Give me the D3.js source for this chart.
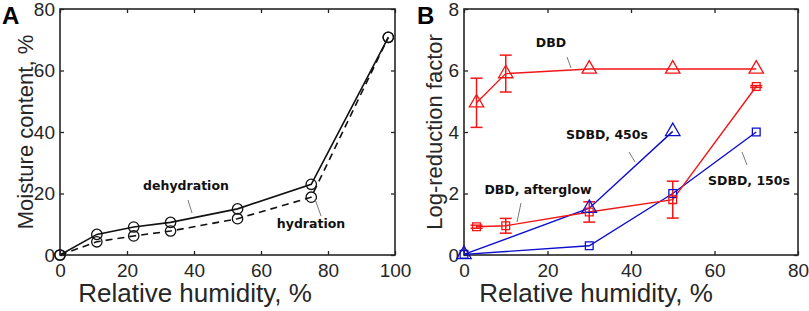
<!DOCTYPE html>
<html>
<head>
<meta charset="utf-8">
<script src="https://cdn.jsdelivr.net/npm/d3@7"></script>
<style>
  body { margin: 0; background: #fff; }
  svg { display: block; }
  .tick text { font-family: "Liberation Sans", Arial, sans-serif; font-size: 19px; fill: #262626; }
  .lbl { font-family: "Liberation Sans", Arial, sans-serif; font-size: 22px; fill: #262626; }
  .xlbl { font-size: 26px; }
  .note { font-family: "DejaVu Sans", Verdana, sans-serif; font-size: 12.5px; font-weight: bold; fill: #111; }
  .panel { font-family: "Liberation Sans", Arial, sans-serif; font-size: 24px; font-weight: bold; fill: #000; }
</style>
</head>
<body>
<div id="view"></div>
<script>
// ---------- Data: panel A ----------
const rhA = [0, 11, 22, 33, 53, 75, 98];
const dehydration = [0, 6.7, 9.1, 10.6, 15, 23, 70.8];
const hydration   = [0, 4.3, 6.2, 7.8, 11.8, 18.8, 70.8];
const ticksAx = [0, 20, 40, 60, 80, 100];
const ticksAy = [0, 20, 40, 60, 80];

// ---------- Data: panel B ----------
const rhDBD = [3, 10, 30, 50, 70];
const dbd       = [4.95, 5.9, 6.05, 6.05, 6.05];
const dbdErr    = [0.8, 0.6, 0, 0, 0];
const afterglow    = [0.92, 0.95, 1.4, 1.8, 5.48];
const afterglowErr = [0.05, 0.24, 0.33, 0.6, 0.03];
const rhS450 = [0, 30, 50];
const sdbd450 = [0.02, 1.52, 4.02];
const rhS150 = [0, 30, 50, 70];
const sdbd150 = [0.02, 0.3, 2.0, 4.0];
const ticksBx = [0, 20, 40, 60, 80];
const ticksBy = [0, 2, 4, 6, 8];

const RED = "#f21616", BLUE = "#0d0dcc", INK = "#262626";

const W = 809, H = 311;
const svg = d3.select("#view").append("svg").attr("width", W).attr("height", H);

// framed axes, MATLAB look: box on, ticks pointing in
function frame(x, y, xt, yt, xLabel, xLabelX, yLabel, yLabelX) {
  const [x0, x1] = x.range(), [y0, y1] = y.range();
  const g = svg.append("g");
  const ax = g.append("g").attr("transform", `translate(0,${y0})`)
    .call(d3.axisBottom(x).tickValues(xt).tickSizeInner(-4).tickSizeOuter(0).tickPadding(9));
  const ay = g.append("g").attr("transform", `translate(${x0},0)`)
    .call(d3.axisLeft(y).tickValues(yt).tickSizeInner(-4).tickSizeOuter(0).tickPadding(5));
  const at = g.append("g").attr("transform", `translate(0,${y1})`)
    .call(d3.axisTop(x).tickValues(xt).tickSizeInner(-4).tickSizeOuter(0).tickFormat(""));
  const ar = g.append("g").attr("transform", `translate(${x1},0)`)
    .call(d3.axisRight(y).tickValues(yt).tickSizeInner(-4).tickSizeOuter(0).tickFormat(""));
  [ax, ay, at, ar].forEach(a => {
    a.select(".domain").remove();
    a.selectAll("line").attr("stroke", INK).attr("stroke-width", 1.3);
    a.selectAll("text").attr("fill", INK).attr("font-family", null).attr("font-size", null);
  });
  g.append("rect")
    .attr("x", x0).attr("y", y1).attr("width", x1 - x0).attr("height", y0 - y1)
    .attr("fill", "none").attr("stroke", INK).attr("stroke-width", 1.6);
  g.append("text").attr("class", "lbl xlbl")
    .attr("x", xLabelX).attr("y", 302).attr("text-anchor", "middle").text(xLabel);
  g.append("text").attr("class", "lbl")
    .attr("transform", `translate(${yLabelX},${(y0 + y1) / 2}) rotate(-90)`)
    .attr("text-anchor", "middle").text(yLabel);
}

function series(x, y, xs, ys, color, dash, width) {
  const line = d3.line().x(d => x(d[0])).y(d => y(d[1]));
  svg.append("path")
    .datum(xs.map((v, i) => [v, ys[i]]))
    .attr("d", line)
    .attr("fill", "none").attr("stroke", color).attr("stroke-width", width)
    .attr("stroke-dasharray", dash);
}

function markers(x, y, xs, ys, color, shape, size) {
  const sym = d3.symbol().type(shape).size(size);
  svg.append("g").selectAll("path")
    .data(xs.map((v, i) => [v, ys[i]]))
    .join("path")
    .attr("transform", d => `translate(${x(d[0])},${y(d[1])})`)
    .attr("d", sym)
    .attr("fill", "none").attr("stroke", color).attr("stroke-width", 1.3);
}

function errorBars(x, y, xs, ys, es, color) {
  const g = svg.append("g").attr("stroke", color).attr("stroke-width", 1.5);
  xs.forEach((v, i) => {
    if (!es[i]) return;
    const cx = x(v), t = y(ys[i] + es[i]), b = y(ys[i] - es[i]);
    g.append("line").attr("x1", cx).attr("x2", cx).attr("y1", t).attr("y2", b);
    g.append("line").attr("x1", cx - 6).attr("x2", cx + 6).attr("y1", t).attr("y2", t);
    g.append("line").attr("x1", cx - 6).attr("x2", cx + 6).attr("y1", b).attr("y2", b);
  });
}

function note(txt, tx, ty, l) {
  svg.append("text").attr("class", "note").attr("x", tx).attr("y", ty)
    .attr("text-anchor", "middle").text(txt);
  svg.append("line").attr("x1", l[0]).attr("y1", l[1]).attr("x2", l[2]).attr("y2", l[3])
    .attr("stroke", "#555").attr("stroke-width", 0.8);
}

// ---------- Panel A ----------
const xA = d3.scaleLinear().domain([0, 100]).range([60, 395]);
const yA = d3.scaleLinear().domain([0, 80]).range([255, 9]);
frame(xA, yA, ticksAx, ticksAy, "Relative humidity, %", 195, "Moisture content, %", 33);
series(xA, yA, rhA, hydration, "#111", "7,5", 1.6);
series(xA, yA, rhA, dehydration, "#111", null, 1.6);
markers(xA, yA, rhA, hydration, "#111", d3.symbolCircle, 85);
markers(xA, yA, rhA, dehydration, "#111", d3.symbolCircle, 85);
note("dehydration", 186, 190, [188, 200, 192, 213]);
note("hydration", 311, 228, [315, 199, 321, 216]);
svg.append("text").attr("class", "panel").attr("x", 2).attr("y", 24).text("A");

// ---------- Panel B ----------
const xB = d3.scaleLinear().domain([0, 80]).range([464, 798]);
const yB = d3.scaleLinear().domain([0, 8]).range([255, 9]);
frame(xB, yB, ticksBx, ticksBy, "Relative humidity, %", 596, "Log-reduction factor", 442);
series(xB, yB, rhS150, sdbd150, BLUE, null, 1.4);
series(xB, yB, rhS450, sdbd450, BLUE, null, 1.4);
series(xB, yB, rhDBD, afterglow, RED, null, 1.4);
series(xB, yB, rhDBD, dbd, RED, null, 1.4);
errorBars(xB, yB, rhDBD, dbd, dbdErr, RED);
errorBars(xB, yB, rhDBD, afterglow, afterglowErr, RED);
markers(xB, yB, rhS150, sdbd150, BLUE, d3.symbolSquare, 60);
markers(xB, yB, rhS450, sdbd450, BLUE, d3.symbolTriangle, 90);
markers(xB, yB, rhDBD, afterglow, RED, d3.symbolSquare, 60);
markers(xB, yB, rhDBD, dbd, RED, d3.symbolTriangle, 90);
note("DBD", 551, 47, [567, 57, 571, 68]);
note("SDBD, 450s", 607, 139, [629, 152, 635, 162]);
note("DBD, afterglow", 538, 194, [521, 203, 517, 222]);
note("SDBD, 150s", 749, 185, [742, 152, 747, 165]);
svg.append("text").attr("class", "panel").attr("x", 417).attr("y", 24).text("B");
</script>
</body>
</html>
